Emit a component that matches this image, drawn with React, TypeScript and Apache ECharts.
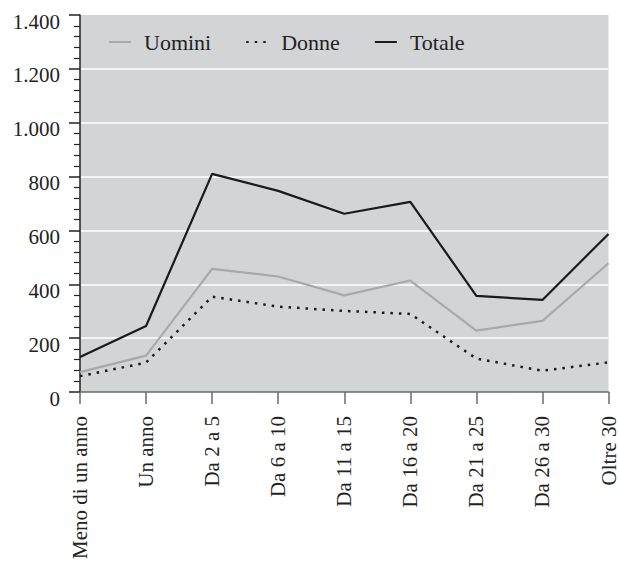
import React, { useEffect, useRef } from "react";
import * as echarts from "echarts";

const categories = [
  "Meno di un anno",
  "Un anno",
  "Da 2 a 5",
  "Da 6 a 10",
  "Da 11 a 15",
  "Da 16 a 20",
  "Da 21 a 25",
  "Da 26 a 30",
  "Oltre 30",
];
const uomini = [74, 135, 457, 429, 359, 414, 228, 264, 478];
const donne = [59, 109, 354, 317, 301, 290, 124, 79, 110];
const totale = [130, 245, 810, 747, 662, 706, 357, 342, 587];

const FONT = "'Liberation Serif', 'Times New Roman', serif";

export default function App() {
  const ref = useRef<HTMLDivElement>(null);
  useEffect(() => {
    if (!ref.current) return;
    const chart = echarts.init(ref.current, undefined, { renderer: "svg" });
    chart.setOption({
      animation: false,
      backgroundColor: "#ffffff",
      textStyle: { fontFamily: FONT },
      grid: {
        left: 80,
        right: 9,
        top: 15,
        bottom: 175,
        show: true,
        backgroundColor: "#d3d4d6",
        borderWidth: 0,
      },
      legend: {
        left: 103,
        top: 26,
        itemWidth: 22,
        itemHeight: 12,
        itemGap: 34,
        itemStyle: { color: "rgba(0,0,0,0)", borderWidth: 0, opacity: 0 },
        textStyle: {
          fontFamily: FONT,
          fontSize: 22,
          color: "#222",
          padding: [0, 0, 0, 8],
        },
        data: ["Uomini", "Donne", "Totale"],
      },
      xAxis: {
        type: "category",
        data: categories,
        boundaryGap: false,
        axisLine: { lineStyle: { color: "#6a6a6a", width: 1.5 } },
        axisTick: { length: 12, lineStyle: { color: "#6a6a6a", width: 1.5 } },
        axisLabel: {
          rotate: 90,
          margin: 24,
          fontFamily: FONT,
          fontSize: 21,
          color: "#222",
        },
        splitLine: { show: false },
      },
      yAxis: {
        type: "value",
        min: 0,
        max: 1400,
        interval: 200,
        axisLine: { show: true, lineStyle: { color: "#222", width: 1.5 } },
        axisTick: { show: true, length: 11, lineStyle: { color: "#222", width: 1.5 } },
        minorTick: { show: true, splitNumber: 5, length: 6, lineStyle: { color: "#222", width: 1.2 } },
        axisLabel: {
          margin: 20,
          fontFamily: FONT,
          fontSize: 21,
          color: "#222",
          verticalAlign: "top",
          lineHeight: 13,
          formatter: (v: number) => v.toString().replace(/\B(?=(\d{3})+(?!\d))/g, "."),
        },
        splitLine: {
          show: true,
          lineStyle: {
            color: [
              "rgba(0,0,0,0)",
              "#ffffff",
              "#ffffff",
              "#ffffff",
              "#ffffff",
              "#ffffff",
              "#ffffff",
              "rgba(0,0,0,0)",
            ],
            width: 1.5,
          },
        },
      },
      series: [
        {
          name: "Uomini",
          type: "line",
          data: uomini,
          symbol: "none",
          itemStyle: { color: "#a9a9a9" },
          lineStyle: { color: "#a9a9a9", width: 2.2 },
        },
        {
          name: "Donne",
          type: "line",
          data: donne,
          symbol: "none",
          itemStyle: { color: "#1a1a1a" },
          lineStyle: { color: "#1a1a1a", width: 2.5, type: [2.5, 6] },
        },
        {
          name: "Totale",
          type: "line",
          data: totale,
          symbol: "none",
          itemStyle: { color: "#1a1a1a" },
          lineStyle: { color: "#1a1a1a", width: 2.2 },
        },
      ],
    });
    return () => chart.dispose();
  }, []);
  return (
    <div
      ref={ref}
      style={{ position: "fixed", left: 0, top: 0, width: 619, height: 567 }}
    />
  );
}
